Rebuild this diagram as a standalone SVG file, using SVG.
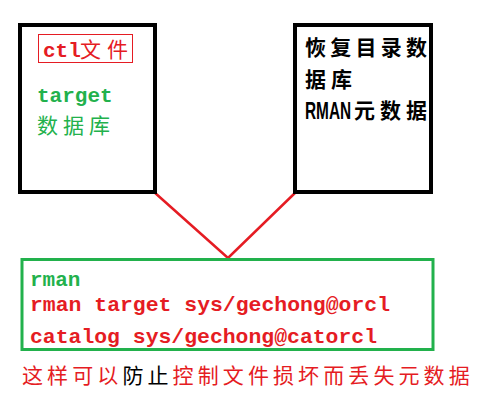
<svg xmlns="http://www.w3.org/2000/svg" width="486" height="418" viewBox="0 0 486 418">
<style>
.box{fill:#fff;stroke:#000;stroke-width:4}
.mono{font-family:"Liberation Mono","DejaVu Sans Mono",monospace;font-weight:bold;font-size:21px}
.cjk{font-family:"Noto Sans CJK SC",sans-serif;font-size:21px}
.red{fill:#e51c23}
.green{fill:#22b14c}
.conn{stroke:#e51c23;stroke-width:2.5;fill:none}
</style>
<rect width="486" height="418" fill="#fff"/>
<g id="connectors">
<polyline class="conn" points="154,192 228,258 296,192"/>
</g>
<g id="ctl-node">
<rect class="box" x="20" y="25" width="135" height="167"/>
<rect x="38.5" y="34.5" width="94" height="28" fill="none" stroke="#e51c23" stroke-width="1"/>
<text x="43" y="57" class="mono red">ctl</text>
<text x="80" y="57" class="cjk red" textLength="48" lengthAdjust="spacing">文件</text>
<text x="37" y="102" class="mono green">target</text>
<text x="37" y="133" class="cjk green" font-size="22" textLength="73" lengthAdjust="spacing">数据库</text>
</g>
<g id="catalog-node">
<rect class="box" x="295" y="25" width="136" height="167"/>
<text x="305" y="55" class="cjk" font-weight="bold" textLength="122" lengthAdjust="spacing">恢复目录数</text>
<text x="305" y="87" class="cjk" font-weight="bold" textLength="47" lengthAdjust="spacing">据库</text>
<text transform="translate(305,119) scale(0.67,1)" font-family="Liberation Sans,Arial,sans-serif" font-weight="bold" font-size="23">RMAN</text>
<text x="354" y="118" class="cjk" font-weight="bold" letter-spacing="5">元数据</text>
</g>
<g id="rman-node">
<rect x="22" y="259.5" width="411" height="90" fill="#fff" stroke="#22b14c" stroke-width="3"/>
<text x="30" y="286" class="mono green">rman</text>
<text x="30" y="311" class="mono red" textLength="360" lengthAdjust="spacingAndGlyphs">rman target sys/gechong@orcl</text>
<text x="30" y="343" class="mono red" textLength="347" lengthAdjust="spacingAndGlyphs">catalog sys/gechong@catorcl</text>
</g>
<g id="note">
<text x="22" y="383" class="cjk" font-size="21" letter-spacing="4.1"><tspan class="red">这样可以</tspan><tspan fill="#000">防止</tspan><tspan class="red">控制文件损坏而丢失元数据</tspan></text>
</g>
</svg>
